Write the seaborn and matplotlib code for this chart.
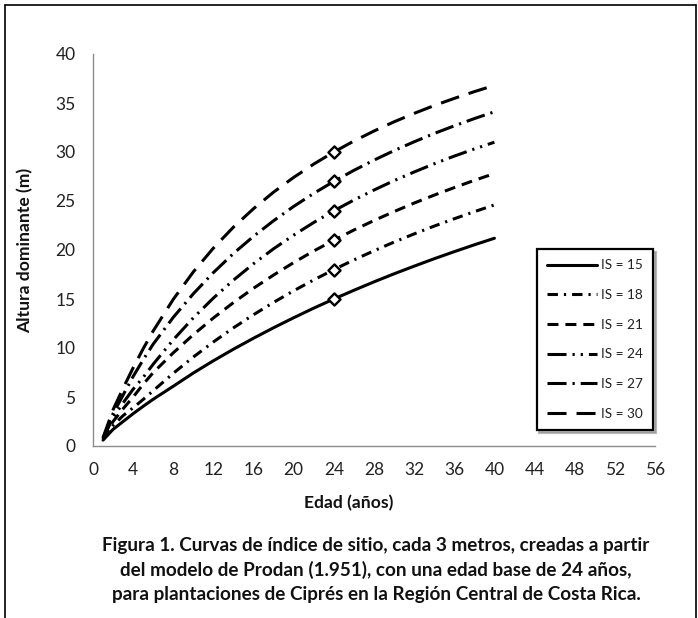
import matplotlib
matplotlib.use("Agg")
import matplotlib.pyplot as plt
from matplotlib.lines import Line2D
import pandas as pd
import seaborn as sns

# ---- data ----
edad = [1, 2, 3, 4, 5, 6, 8, 10, 12, 14, 16, 18, 20, 22, 24, 26, 28, 30, 32, 34, 36, 38, 40]
is15 = [0.60, 1.70, 2.50, 3.30, 4.05, 4.77, 6.10, 7.45, 8.70, 9.88, 11.00, 12.07, 13.09, 14.07, 15.00,
        15.89, 16.75, 17.57, 18.35, 19.11, 19.83, 20.53, 21.20]
is18 = [0.65, 2.10, 3.10, 3.90, 4.75, 5.64, 7.42, 9.08, 10.62, 12.06, 13.40, 14.66, 15.84, 16.95, 18.00,
        18.99, 19.92, 20.81, 21.64, 22.44, 23.19, 23.91, 24.60]
is21 = [0.70, 2.50, 3.80, 5.00, 6.30, 7.49, 9.51, 11.36, 13.07, 14.64, 16.10, 17.45, 18.72, 19.90, 21.00,
        22.04, 23.01, 23.92, 24.79, 25.60, 26.37, 27.11, 27.80]
is24 = [0.75, 2.90, 4.40, 5.80, 7.00, 8.35, 10.84, 13.08, 15.10, 16.93, 18.60, 20.13, 21.52, 22.81, 24.00,
        25.10, 26.12, 27.08, 27.96, 28.80, 29.58, 30.31, 31.00]
is27 = [0.80, 3.30, 5.20, 7.10, 8.80, 10.40, 13.13, 15.54, 17.70, 19.65, 21.40, 22.99, 24.45, 25.78, 27.00,
        28.13, 29.17, 30.14, 31.04, 31.89, 32.67, 33.41, 34.10]
is30 = [0.85, 3.70, 5.90, 7.98, 9.93, 11.74, 14.97, 17.77, 20.20, 22.34, 24.22, 25.91, 27.41, 28.77, 30.00,
        31.12, 32.14, 33.08, 33.94, 34.74, 35.47, 36.16, 36.80]
indices = [15, 18, 21, 24, 27, 30]
edad_base = 24
xticks = [0, 4, 8, 12, 16, 20, 24, 28, 32, 36, 40, 44, 48, 52, 56]
yticks = [0, 5, 10, 15, 20, 25, 30, 35, 40]

labels = [f"IS = {s}" for s in indices]
series = [is15, is18, is21, is24, is27, is30]
rows = []
for lab, vals in zip(labels, series):
    for e, h in zip(edad, vals):
        rows.append({"Edad": e, "Altura": h, "Serie": lab})
df = pd.DataFrame(rows)

# ---- style ----
sns.set_theme(style="white")
plt.rcParams["font.family"] = ["Lato", "DejaVu Sans"]
plt.rcParams["lines.scale_dashes"] = False

dash_map = {
    "IS = 15": "",
    "IS = 18": (7.5, 4.3, 1.6, 4.3),
    "IS = 21": (7.9, 5.0),
    "IS = 24": (13.7, 4.3, 1.6, 4.3, 1.6, 4.3),
    "IS = 27": (13.7, 4.3, 1.6, 4.3),
    "IS = 30": (13.7, 7.2),
}

W, H = 698, 618
fig = plt.figure(figsize=(W / 100, H / 100), dpi=100)
ax = fig.add_axes([93 / W, 1 - 446 / H, 562 / W, 392 / H])

sns.lineplot(data=df, x="Edad", y="Altura", style="Serie", style_order=labels,
             dashes=dash_map, color="black", linewidth=2.2, legend=False,
             estimator=None, sort=False, ax=ax)

base = df[df["Edad"] == edad_base]
sns.scatterplot(data=base, x="Edad", y="Altura", marker="D", s=38,
                facecolor="white", edgecolor="black", linewidth=1.7,
                legend=False, ax=ax, zorder=5)
for coll in ax.collections:
    coll.set_facecolor("white")
    coll.set_edgecolor("black")

ax.set_xlim(0, 56)
ax.set_ylim(0, 40)
ax.set_xticks(xticks)
ax.set_yticks(yticks)
for side in ("top", "right"):
    ax.spines[side].set_visible(False)
for side in ("left", "bottom"):
    ax.spines[side].set_color("#8c8c8c")
    ax.spines[side].set_linewidth(1.0)
ax.tick_params(axis="both", direction="out", length=4.5, width=1.0, color="#8c8c8c",
               labelsize=12.5, labelcolor="#222222")
ax.tick_params(axis="x", pad=7)
ax.tick_params(axis="y", pad=8)
ax.set_xlabel("")
ax.set_ylabel("Altura dominante (m)", fontsize=12.6, fontweight="bold", color="#111111")
ax.yaxis.set_label_coords((33 - 93) / 562, 0.5)

fig.text(349 / W, 1 - 503 / H, "Edad (años)", ha="center", va="center",
         fontsize=12.6, fontweight="bold", color="#111111")

caption = ("Figura 1. Curvas de índice de sitio, cada 3 metros, creadas a partir\n"
           "del modelo de Prodan (1.951), con una edad base de 24 años,\n"
           "para plantaciones de Ciprés en la Región Central de Costa Rica.")
fig.text(376 / W, 1 - 570 / H, caption, ha="center", va="center", fontsize=13.6,
         fontweight="bold", color="#111111", linespacing=1.5)

# legend
handles = []
for lab in labels:
    d = dash_map[lab]
    if d == "":
        handles.append(Line2D([], [], color="black", lw=2.2, linestyle="-"))
    else:
        handles.append(Line2D([], [], color="black", lw=2.2, dashes=d))
leg = fig.legend(handles, labels, loc="center", bbox_to_anchor=(595 / W, 1 - 339.5 / H),
                 bbox_transform=fig.transFigure, fontsize=9.8, frameon=True, fancybox=False,
                 shadow={"color": "0.55", "alpha": 0.6}, handlelength=3.7, handletextpad=0.3,
                 labelspacing=1.3, borderpad=0.75, borderaxespad=0)
leg.get_frame().set_edgecolor("black")
leg.get_frame().set_linewidth(1.6)
for t in leg.get_texts():
    t.set_color("#222222")

# outer frame
fr = dict(color="black", lw=1.2, transform=fig.transFigure)
fig.add_artist(Line2D([5 / W, 5 / W], [0, 1 - 5 / H], **fr))
fig.add_artist(Line2D([5 / W, 696 / W], [1 - 5 / H, 1 - 5 / H], **fr))
fig.add_artist(Line2D([696 / W, 696 / W], [0, 1 - 5 / H], **fr))

fig.savefig("out.png", dpi=100, facecolor="white")
